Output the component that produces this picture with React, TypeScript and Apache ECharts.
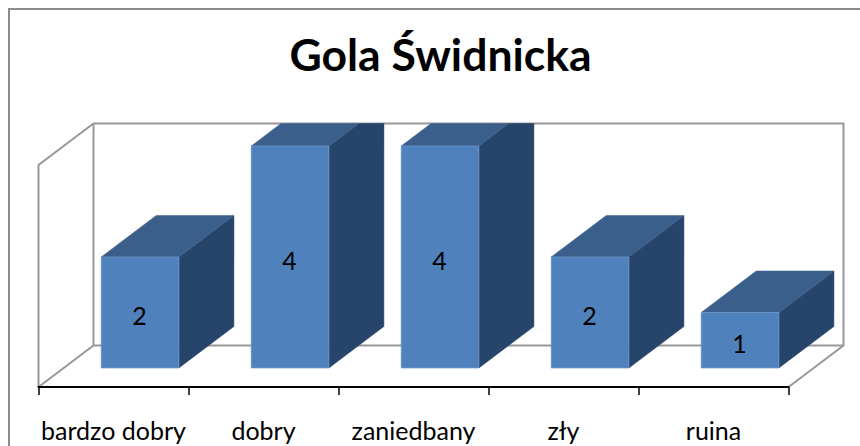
import React, { useEffect, useRef } from "react";
import * as echarts from "echarts";

const title = "Gola Świdnicka";
const categories = ["bardzo dobry", "dobry", "zaniedbany", "zły", "ruina"];
const values = [2, 4, 4, 2, 1];
const valueMax = 4;

const FRONT = "#4F81BD";
const TOP = "#3A5F8B";
const SIDE = "#27456B";
const WALL = "#989898";
const DX = 55;
const DY = -41.5;
const BAR_SHIFT_X = 0.483;
const BAR_SHIFT_Y = 0.458;
const BAR_RATIO = 0.518;

function clipTop(points: number[][], yMin: number): number[][] {
  const out: number[][] = [];
  for (let i = 0; i < points.length; i++) {
    const a = points[i];
    const b = points[(i + 1) % points.length];
    const aIn = a[1] >= yMin;
    const bIn = b[1] >= yMin;
    if (aIn) out.push(a);
    if (aIn !== bIn) {
      const t = (yMin - a[1]) / (b[1] - a[1]);
      out.push([a[0] + (b[0] - a[0]) * t, yMin]);
    }
  }
  return out;
}

export default function App() {
  const ref = useRef<HTMLDivElement>(null);
  useEffect(() => {
    document.body.style.margin = "0";
    const chart = echarts.init(ref.current!, undefined, { renderer: "svg" });
    chart.setOption({
      animation: false,
      backgroundColor: "#ffffff",
      textStyle: { fontFamily: "Lato" },
      title: {
        text: title,
        left: 435.5,
        top: 26,
        textAlign: "center",
        textStyle: { fontFamily: "Lato", fontWeight: "bold", fontSize: 44.5, color: "#000" },
      },
      graphic: [
        {
          type: "rect",
          z: -1,
          shape: { x: 9, y: 9, width: 900, height: 500 },
          style: { fill: "none", stroke: "#8C8C8C", lineWidth: 2 },
        },
      ],
      grid: { left: 38.5, top: 165, width: 750, height: 222 },
      xAxis: {
        type: "category",
        data: categories,
        axisLine: { lineStyle: { color: "#000", width: 2 } },
        axisTick: { show: true, length: 8, alignWithLabel: false, lineStyle: { color: "#000", width: 1.5 } },
        axisLabel: { color: "#000", fontFamily: "Lato", fontSize: 25, margin: 30, interval: 0 },
        z: 5,
      },
      yAxis: {
        type: "value",
        min: 0,
        max: valueMax,
        interval: 1,
        axisLine: { show: false },
        axisTick: { show: false },
        axisLabel: { show: false },
        splitLine: { show: false },
      },
      series: [
        {
          type: "custom",
          silent: true,
          clip: false,
          z: 1,
          data: [[0, 0]],
          renderItem: (_p: any, api: any) => {
            const band = api.size([1, 0])[0];
            const [x0, y0] = api.coord([0, 0]);
            const x0L = x0 - band / 2;
            const x1 = x0L + band * categories.length;
            const yTop = api.coord([0, valueMax])[1];
            const line = (points: number[][]) => ({
              type: "polyline",
              shape: { points },
              style: { fill: "none", stroke: WALL, lineWidth: 2 },
            });
            return {
              type: "group",
              children: [
                line([
                  [x0L, y0],
                  [x0L, yTop],
                  [x0L + DX, yTop + DY],
                  [x1 + DX, yTop + DY],
                  [x1 + DX, y0 + DY],
                  [x1, y0],
                ]),
                line([
                  [x0L, y0],
                  [x0L + DX, y0 + DY],
                  [x1 + DX, y0 + DY],
                ]),
                line([
                  [x0L + DX, y0 + DY],
                  [x0L + DX, yTop + DY],
                ]),
              ],
            };
          },
        },
        {
          type: "custom",
          clip: false,
          z: 2,
          data: values.map((v, i) => [i, v]),
          encode: { x: 0, y: 1 },
          renderItem: (_p: any, api: any) => {
            const i = api.value(0);
            const v = api.value(1);
            const band = api.size([1, 0])[0];
            const w = band * BAR_RATIO;
            const [cx, yv] = api.coord([i, v]);
            const y0 = api.coord([i, 0])[1];
            const yMin = api.coord([i, valueMax])[1] + DY;
            const ox = DX * BAR_SHIFT_X;
            const oy = DY * BAR_SHIFT_Y;
            const l = cx + ox - w / 2;
            const r = l + w;
            const t = yv + oy;
            const b = y0 + oy;
            const poly = (pts: number[][], fill: string) => ({
              type: "polygon",
              shape: { points: clipTop(pts, yMin) },
              style: { fill, stroke: fill, lineWidth: 0.5 },
            });
            return {
              type: "group",
              children: [
                poly([[r, t], [r + DX, t + DY], [r + DX, b + DY], [r, b]], SIDE),
                poly([[l, t], [l + DX, t + DY], [r + DX, t + DY], [r, t]], TOP),
                {
                  type: "rect",
                  shape: { x: l, y: t, width: w, height: b - t },
                  style: { fill: FRONT, stroke: "#6F97C9", lineWidth: 0.75 },
                },
                {
                  type: "text",
                  x: (l + r) / 2 - 0.5,
                  y: (t + b) / 2 + 3,
                  style: {
                    text: String(v),
                    fill: "#000",
                    font: "25px Lato",
                    align: "center",
                    verticalAlign: "middle",
                  },
                },
              ],
            };
          },
        },
      ],
    });
    return () => chart.dispose();
  }, []);
  return <div ref={ref} style={{ width: 860, height: 446 }} />;
}
